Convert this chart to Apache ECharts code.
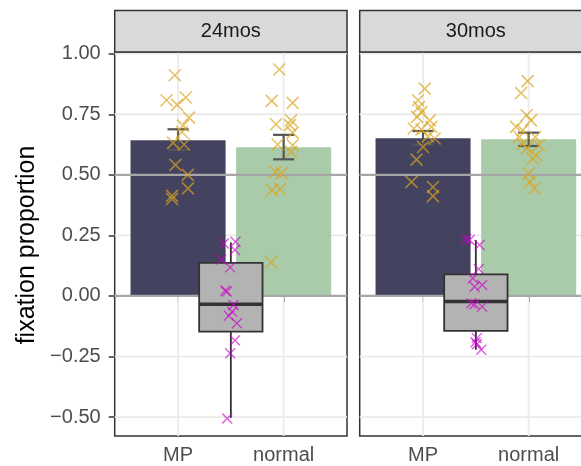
<!DOCTYPE html>
<html>
<head>
<meta charset="utf-8">
<script src="https://cdn.jsdelivr.net/npm/echarts@6/dist/echarts.min.js"></script>
<style>
html,body{margin:0;padding:0;background:#fff;}
#chart{width:581px;height:466px;}
</style>
</head>
<body>
<div id="chart"></div>
<script>
// ---------- data ----------
const panels = ['24mos', '30mos'];
const categories = ['MP', 'normal'];
const yTicks = [-0.5, -0.25, 0, 0.25, 0.5, 0.75, 1.0];
const xTicks = [1, 2];
const refLines = [0.5, 0];

const barMeans24 = [0.643, 0.614];
const barMeans30 = [0.651, 0.647];
const errLo24 = [0.603, 0.564];
const errHi24 = [0.688, 0.665];
const errLo30 = [0.625, 0.619];
const errHi30 = [0.681, 0.674];

// boxplot stats: [lower whisker, Q1, median, Q3, upper whisker]
const box24 = [-0.503, -0.147, -0.034, 0.137, 0.221];
const box30 = [-0.222, -0.144, -0.023, 0.089, 0.231];
const boxPos = 1.5;

// individual points (x = jittered category position, y = value)
const mp24X = [0.969, 0.891, 0.991, 1.073, 1.104, 1.047, 1.038, 0.953, 1.057, 0.975, 1.092, 1.094, 0.943, 0.943];
const mp24Y = [0.911, 0.808, 0.789, 0.819, 0.736, 0.703, 0.677, 0.632, 0.625, 0.541, 0.500, 0.444, 0.413, 0.400];
const nm24X = [1.959, 1.887, 2.085, 1.928, 2.070, 2.060, 2.085, 1.943, 2.085, 2.070, 1.922, 1.981, 1.891, 1.966, 1.881];
const nm24Y = [0.935, 0.805, 0.797, 0.709, 0.725, 0.705, 0.674, 0.625, 0.622, 0.595, 0.512, 0.506, 0.437, 0.441, 0.139];
const mp30X = [1.016, 0.953, 0.962, 0.985, 0.943, 1.063, 0.912, 0.985, 1.079, 1.047, 1.110, 1.000, 0.938, 0.891, 1.094, 1.094];
const mp30Y = [0.856, 0.808, 0.780, 0.759, 0.739, 0.725, 0.691, 0.687, 0.698, 0.659, 0.650, 0.615, 0.563, 0.471, 0.450, 0.412];
const nm30X = [1.990, 1.928, 1.981, 2.022, 1.881, 1.943, 1.912, 2.063, 1.943, 2.097, 1.981, 2.070, 2.038, 2.000, 2.013, 2.054];
const nm30Y = [0.887, 0.838, 0.746, 0.725, 0.698, 0.684, 0.656, 0.656, 0.629, 0.622, 0.609, 0.581, 0.567, 0.506, 0.471, 0.444];
const diff24X = [1.434, 1.544, 1.538, 1.409, 1.494, 1.447, 1.462, 1.525, 1.513, 1.481, 1.557, 1.538, 1.494, 1.466];
const diff24Y = [0.217, 0.224, 0.190, 0.151, 0.118, 0.022, 0.018, -0.037, -0.065, -0.082, -0.113, -0.184, -0.236, -0.506];
const diff30X = [1.409, 1.441, 1.535, 1.528, 1.472, 1.560, 1.488, 1.457, 1.488, 1.560, 1.509, 1.497, 1.509, 1.551];
const diff30Y = [0.235, 0.231, 0.210, 0.111, 0.073, 0.045, 0.038, -0.030, -0.034, -0.044, -0.174, -0.191, -0.199, -0.222];

// ---------- style ----------
const FONT = '"Liberation Sans", Arial, Helvetica, sans-serif';
const barColors = ['#43425F', '#A9CBA9'];
const gold = 'rgba(218,165,32,0.85)';
const magenta = 'rgba(205,0,205,0.8)';
const crossPath = 'path://M0,0L10,10M10,0L0,10';
const Y_MIN = -0.578, Y_MAX = 1.007;
const X_MIN = 0.4, X_MAX = 2.6;
const gridLeft = [114.7, 359.7];
const gridTop = 52, gridH = 384, gridW = 232.3;

const chart = echarts.init(document.getElementById('chart'), null, {renderer: 'canvas'});

function zip(xs, ys) { return xs.map((x, i) => [x, ys[i]]); }

function hLineRender(color, width) {
  return function (params, api) {
    const cs = params.coordSys;
    const y = api.coord([api.value(0), api.value(1)])[1];
    return {type: 'line', shape: {x1: cs.x, y1: y, x2: cs.x + cs.width, y2: y},
      style: {stroke: color, lineWidth: width}};
  };
}
function vLineRender(color, width) {
  return function (params, api) {
    const cs = params.coordSys;
    const x = api.coord([api.value(0), api.value(1)])[0];
    return {type: 'line', shape: {x1: x, y1: cs.y, x2: x, y2: cs.y + cs.height},
      style: {stroke: color, lineWidth: width}};
  };
}
function barRender(params, api) {
  const x = api.value(0), y = api.value(1);
  const a = api.coord([x - 0.45, y]);
  const b = api.coord([x + 0.45, 0]);
  return {type: 'rect', shape: {x: a[0], y: Math.min(a[1], b[1]), width: b[0] - a[0], height: Math.abs(b[1] - a[1])},
    style: {fill: barColors[params.dataIndex]}};
}
function errRender(params, api) {
  const x = api.value(0), lo = api.value(1), hi = api.value(2);
  const t = api.coord([x, hi]), bt = api.coord([x, lo]);
  const l = api.coord([x - 0.1, hi])[0], r = api.coord([x + 0.1, hi])[0];
  const st = {stroke: '#555555', lineWidth: 2.2};
  return {type: 'group', children: [
    {type: 'line', shape: {x1: t[0], y1: t[1], x2: bt[0], y2: bt[1]}, style: st},
    {type: 'line', shape: {x1: l, y1: t[1], x2: r, y2: t[1]}, style: st},
    {type: 'line', shape: {x1: l, y1: bt[1], x2: r, y2: bt[1]}, style: st}
  ]};
}
function boxRender(params, api) {
  const x = api.value(0);
  const v = [1, 2, 3, 4, 5].map(i => api.coord([x, api.value(i)])[1]);
  const l = api.coord([x - 0.3, 0])[0], r = api.coord([x + 0.3, 0])[0];
  const cx = api.coord([x, 0])[0];
  const st = {stroke: '#333333', lineWidth: 1.8};
  return {type: 'group', children: [
    {type: 'line', shape: {x1: cx, y1: v[4], x2: cx, y2: v[3]}, style: st},
    {type: 'line', shape: {x1: cx, y1: v[1], x2: cx, y2: v[0]}, style: st},
    {type: 'rect', shape: {x: l, y: v[3], width: r - l, height: v[1] - v[3]}, style: {fill: '#B3B3B3', stroke: '#333333', lineWidth: 1.8}},
    {type: 'line', shape: {x1: l, y1: v[2], x2: r, y2: v[2]}, style: {stroke: '#333333', lineWidth: 3.5}}
  ]};
}

const grids = [], xAxes = [], yAxes = [], series = [], graphics = [];
const panelData = [
  {means: barMeans24, lo: errLo24, hi: errHi24, box: box24, mp: zip(mp24X, mp24Y), nm: zip(nm24X, nm24Y), diff: zip(diff24X, diff24Y)},
  {means: barMeans30, lo: errLo30, hi: errHi30, box: box30, mp: zip(mp30X, mp30Y), nm: zip(nm30X, nm30Y), diff: zip(diff30X, diff30Y)}
];

panels.forEach((name, i) => {
  grids.push({left: gridLeft[i], top: gridTop, width: gridW, height: gridH, show: true,
    borderColor: '#333333', borderWidth: 1.5, backgroundColor: '#ffffff', containLabel: false,
    outerBoundsMode: 'none'});
  xAxes.push({type: 'value', gridIndex: i, min: X_MIN, max: X_MAX,
    axisLine: {show: false},
    axisTick: {show: true, customValues: xTicks, length: 6, lineStyle: {color: '#333333', width: 1.5}},
    axisLabel: {show: true, customValues: xTicks, formatter: v => categories[Math.round(v) - 1] || '',
      color: '#4D4D4D', fontSize: 20, fontFamily: FONT, margin: 9},
    splitLine: {show: false}});
  yAxes.push({type: 'value', gridIndex: i, min: Y_MIN, max: Y_MAX,
    axisLine: {show: false},
    axisTick: {show: i === 0, customValues: yTicks, length: 6, lineStyle: {color: '#333333', width: 1.5}},
    axisLabel: {show: i === 0, customValues: yTicks,
      formatter: v => (v < 0 ? '\u2212' : '') + Math.abs(v).toFixed(2),
      color: '#4D4D4D', fontSize: 20, fontFamily: FONT, margin: 14},
    splitLine: {show: false}});

  const d = panelData[i];
  series.push({type: 'custom', xAxisIndex: i, yAxisIndex: i, z: 1, silent: true,
    renderItem: hLineRender('#EBEBEB', 1.8), data: yTicks.map(v => [1, v]), encode: {x: 0, y: 1}});
  series.push({type: 'custom', xAxisIndex: i, yAxisIndex: i, z: 1, silent: true,
    renderItem: vLineRender('#EBEBEB', 1.8), data: xTicks.map(v => [v, 0]), encode: {x: 0, y: 1}});
  series.push({type: 'custom', xAxisIndex: i, yAxisIndex: i, z: 2, silent: true,
    renderItem: barRender, data: d.means.map((m, k) => [k + 1, m]), encode: {x: 0, y: 1}});
  series.push({type: 'custom', xAxisIndex: i, yAxisIndex: i, z: 3, silent: true,
    renderItem: hLineRender('#A6A6A6', 2.2), data: refLines.map(v => [1, v]), encode: {x: 0, y: 1}});
  series.push({type: 'custom', xAxisIndex: i, yAxisIndex: i, z: 4, silent: true,
    renderItem: errRender, data: d.lo.map((lo, k) => [k + 1, lo, d.hi[k]]), encode: {x: 0, y: [1, 2]}});
  series.push({type: 'scatter', xAxisIndex: i, yAxisIndex: i, z: 5, silent: true,
    symbol: crossPath, symbolSize: 12, data: d.mp.concat(d.nm),
    itemStyle: {color: 'rgba(0,0,0,0)', borderColor: gold, borderWidth: 1.6}});
  series.push({type: 'custom', xAxisIndex: i, yAxisIndex: i, z: 6, silent: true,
    renderItem: boxRender, data: [[boxPos].concat(d.box)], encode: {x: 0, y: [1, 2, 3, 4, 5]}});
  series.push({type: 'scatter', xAxisIndex: i, yAxisIndex: i, z: 7, silent: true,
    symbol: crossPath, symbolSize: 10, data: d.diff,
    itemStyle: {color: 'rgba(0,0,0,0)', borderColor: magenta, borderWidth: 1.4}});

  graphics.push({type: 'rect', shape: {x: gridLeft[i], y: 10.5, width: gridW, height: 41.5},
    style: {fill: '#D9D9D9', stroke: '#333333', lineWidth: 1.5}, z: 10});
  graphics.push({type: 'text', x: gridLeft[i] + gridW / 2, y: 31.5, z: 11,
    style: {text: name, fill: '#1A1A1A', font: '20px ' + FONT, textAlign: 'center', textVerticalAlign: 'middle'}});
});

graphics.push({type: 'text', x: 27, y: 245, rotation: Math.PI / 2, z: 11,
  style: {text: 'fixation proportion', fill: '#000000', font: '25px ' + FONT, textAlign: 'center', textVerticalAlign: 'middle'}});

chart.setOption({
  animation: false,
  backgroundColor: '#ffffff',
  grid: grids,
  xAxis: xAxes,
  yAxis: yAxes,
  series: series,
  graphic: {elements: graphics}
});
</script>
</body>
</html>
